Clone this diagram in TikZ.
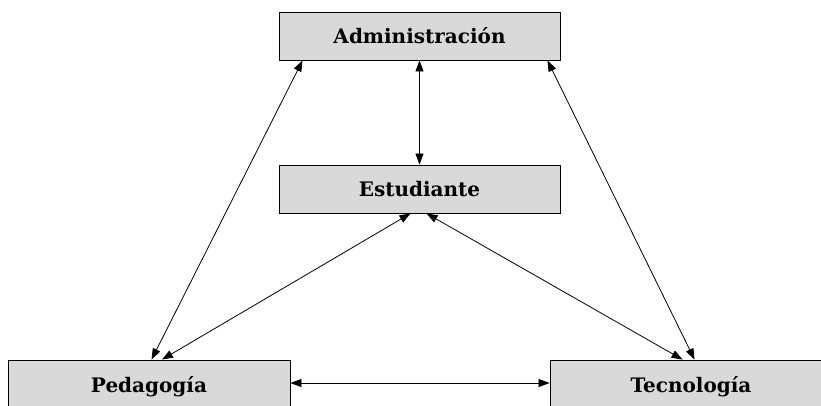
\documentclass[tikz,border=0pt]{standalone}
\usepackage{fontspec}
\setmainfont{DejaVu Serif}
\usetikzlibrary{calc,arrows.meta}
\definecolor{boxgray}{HTML}{D9D9D9}
\begin{document}
\begin{tikzpicture}[x=1pt,y=-1pt,
  box/.style={draw=black, fill=boxgray, line width=0.9pt, minimum width=281pt, minimum height=48pt, inner sep=0pt, font=\bfseries\fontsize{20}{24}\selectfont},
  link/.style={{Triangle[length=11pt,width=8pt]}-{Triangle[length=11pt,width=8pt]}, line width=0.8pt}]
\useasboundingbox (0,0) rectangle (821,406);
\clip (0,0) rectangle (821,406);
\node[box] (adm) at (419.5,36) {Administración};
\node[box] (est) at (419.5,189) {Estudiante};
\node[box, minimum width=282pt, minimum height=54pt] (ped) at (149,387) {Pedagogía};
\node[box, minimum width=282pt, minimum height=54pt] (tec) at (691,387) {Tecnología};
\draw[link] (adm.south) -- (est.north);
\draw[link] ($(adm.south west)+(24,0)$) -- ($(ped.north west)+(144,0)$);
\draw[link] ($(adm.south east)+(-13,0)$) -- ($(tec.north west)+(145,0)$);
\draw[link] ($(est.south)+(-9,0)$) -- ($(ped.north)+(13,0)$);
\draw[link] ($(est.south)+(7,0)$) -- ($(tec.north west)+(133,0)$);
\draw[link] ($(ped.east)+(0,-4)$) -- ($(tec.west)+(0,-4)$);
\end{tikzpicture}
\end{document}
